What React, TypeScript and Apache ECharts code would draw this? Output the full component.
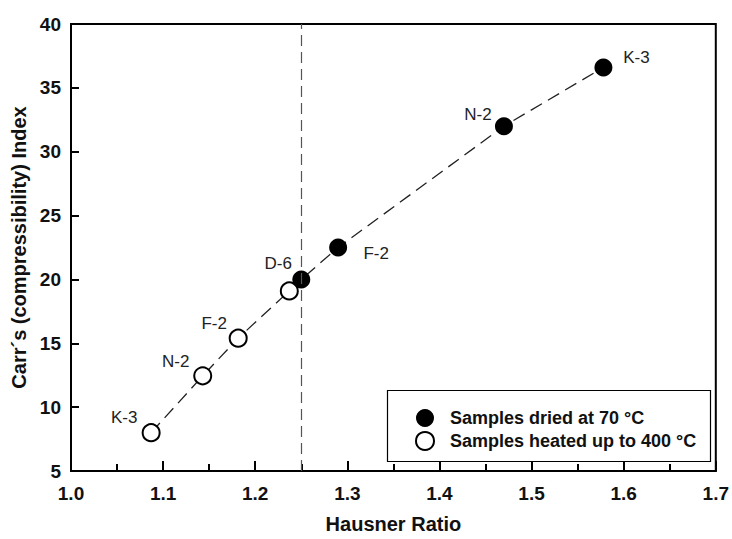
import React, { useEffect, useRef } from "react";
import * as echarts from "echarts";

const FONT = "'Liberation Sans', Arial, sans-serif";

// Samples dried at 70 °C (filled)
const driedNames = ["D-6", "F-2", "N-2", "K-3"];
const driedX = [1.25, 1.29, 1.47, 1.578];
const driedY = [20.0, 22.5, 32.0, 36.6];
const driedLabelOffsets: [number, number][] = [[-23, -16], [38, 6], [-26, -12], [33, -10]];

// Samples heated up to 400 °C (open)
const heatedNames = ["K-3", "N-2", "F-2", ""];
const heatedX = [1.087, 1.143, 1.1815, 1.237];
const heatedY = [8.0, 12.45, 15.4, 19.1];
const heatedLabelOffsets: [number, number][] = [[-27, -15], [-27, -14], [-24, -15], [0, 0]];

const thresholdX = 1.25;

const xTicks = [1.0, 1.1, 1.2, 1.3, 1.4, 1.5, 1.6, 1.7];
const yTicks = [5, 10, 15, 20, 25, 30, 35, 40];

export default function App() {
  const ref = useRef<HTMLDivElement>(null);
  useEffect(() => {
    if (!ref.current) return;
    const chart = echarts.init(ref.current, null, { renderer: "svg" });

    const linePts = [
      ...heatedX.map((x, i) => [x, heatedY[i]]),
      ...driedX.map((x, i) => [x, driedY[i]]),
    ].sort((a, b) => a[0] - b[0]);

    const mk = (names: string[], xs: number[], ys: number[], offs: [number, number][]) =>
      xs.map((x, i) => ({
        value: [x, ys[i]],
        name: names[i],
        label: {
          show: names[i] !== "",
          position: "inside",
          offset: offs[i],
          formatter: names[i],
        },
      }));

    chart.setOption({
      animation: false,
      backgroundColor: "#fff",
      grid: {
        left: 71,
        top: 24,
        right: 13,
        bottom: 62,
        show: true,
        borderColor: "#000",
        borderWidth: 2,
        backgroundColor: "transparent",
      },
      xAxis: {
        type: "value",
        min: xTicks[0],
        max: xTicks[xTicks.length - 1],
        interval: 0.1,
        name: "Hausner Ratio",
        nameLocation: "middle",
        nameGap: 43,
        nameTextStyle: { fontFamily: FONT, fontWeight: "bold", fontSize: 20, color: "#111" },
        axisLine: { show: true, lineStyle: { color: "#000", width: 2 } },
        axisTick: { show: true, inside: true, length: 10, lineStyle: { color: "#000", width: 2 } },
        minorTick: { show: true, splitNumber: 2, length: 7, lineStyle: { color: "#000", width: 2 } },
        splitLine: { show: false },
        axisLabel: {
          fontFamily: FONT,
          fontWeight: "bold",
          fontSize: 19,
          color: "#111",
          margin: 13,
          formatter: (v: number) => v.toFixed(1),
        },
      },
      yAxis: {
        type: "value",
        min: yTicks[0],
        max: yTicks[yTicks.length - 1],
        interval: 5,
        name: "Carr´s (compressibility) Index",
        nameLocation: "middle",
        nameGap: 40,
        nameTextStyle: { fontFamily: FONT, fontWeight: "bold", fontSize: 20, color: "#111" },
        axisLine: { show: true, lineStyle: { color: "#000", width: 2 } },
        axisTick: { show: true, inside: true, length: 8, lineStyle: { color: "#000", width: 2 } },
        splitLine: { show: false },
        axisLabel: {
          fontFamily: FONT,
          fontWeight: "bold",
          fontSize: 19,
          color: "#111",
          margin: 10,
        },
      },
      legend: {
        orient: "vertical",
        left: 410,
        top: 404,
        itemWidth: 18,
        itemHeight: 18,
        itemGap: 4,
        icon: "circle",
        selectedMode: false,
        textStyle: {
          fontFamily: FONT,
          fontWeight: "bold",
          fontSize: 18,
          color: "#111",
          padding: [0, 0, 0, 11],
        },
        data: [
          { name: "Samples dried at 70 °C", itemStyle: { color: "#000", borderColor: "#000", borderWidth: 0 } },
          { name: "Samples heated up to 400 °C", itemStyle: { color: "#fff", borderColor: "#000", borderWidth: 2 } },
        ],
      },
      graphic: [
        {
          type: "rect",
          left: 385,
          top: 388,
          shape: { width: 323, height: 71 },
          style: { fill: "none", stroke: "#000", lineWidth: 1.2 },
          z: 1,
        },
      ],
      series: [
        {
          type: "line",
          name: "trend",
          data: linePts,
          symbol: "none",
          lineStyle: { color: "#222", width: 1.3, type: [13, 7] },
          z: 1,
          markLine: {
            silent: true,
            symbol: "none",
            label: { show: false },
            lineStyle: { color: "#555", width: 1.2, type: [11, 6] },
            data: [{ xAxis: thresholdX }],
          },
        },
        {
          type: "scatter",
          name: "Samples dried at 70 °C",
          symbol: "circle",
          symbolSize: 18,
          itemStyle: { color: "#000", opacity: 1 },
          label: { fontFamily: FONT, fontSize: 17, color: "#222" },
          data: mk(driedNames, driedX, driedY, driedLabelOffsets),
          z: 3,
        },
        {
          type: "scatter",
          name: "Samples heated up to 400 °C",
          symbol: "circle",
          symbolSize: 17,
          itemStyle: { color: "#fff", borderColor: "#000", borderWidth: 2, opacity: 1 },
          label: { fontFamily: FONT, fontSize: 17, color: "#222" },
          data: mk(heatedNames, heatedX, heatedY, heatedLabelOffsets),
          z: 2,
        },
      ],
    });
    return () => chart.dispose();
  }, []);
  return <div ref={ref} style={{ width: 732, height: 539, position: "absolute", left: 0, top: 0 }} />;
}
